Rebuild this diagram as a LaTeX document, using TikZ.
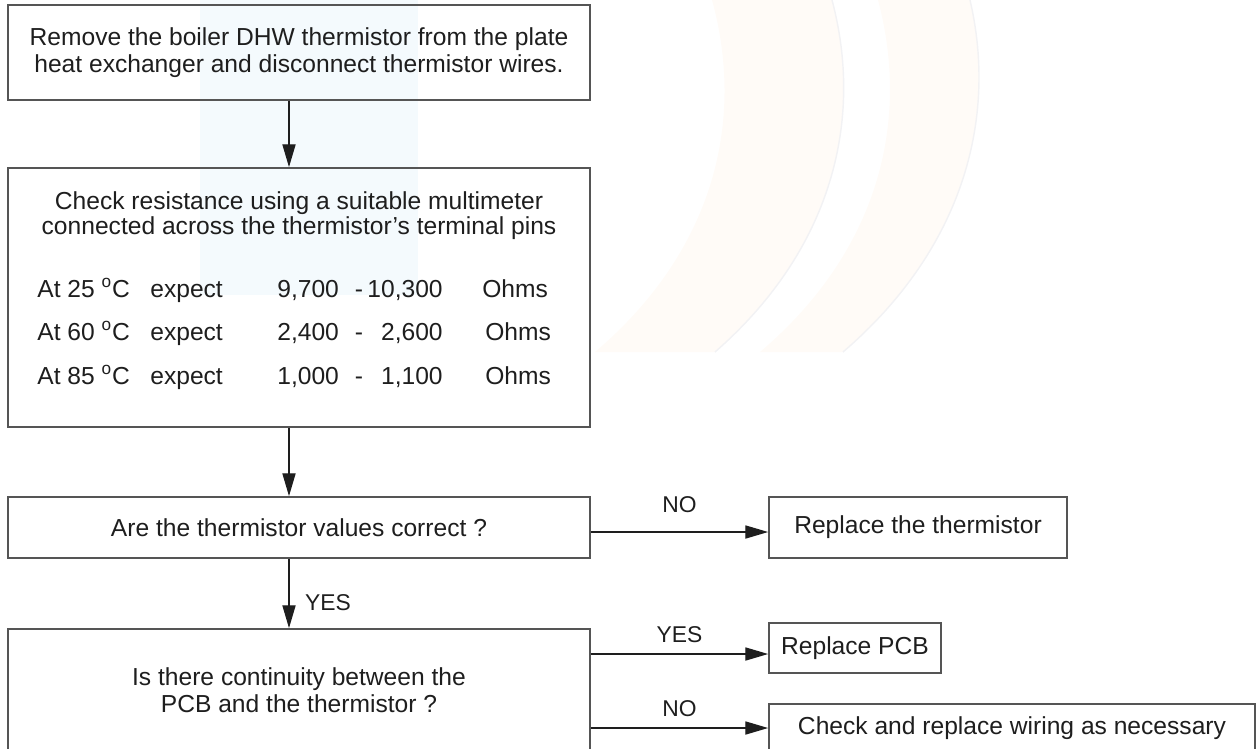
\documentclass[tikz,border=0pt]{standalone}
\usepackage{fontspec}
\setmainfont{Liberation Sans}
\usetikzlibrary{positioning,arrows.meta}
\definecolor{cLine}{RGB}{85,85,85}
\definecolor{cText}{RGB}{30,30,30}
\definecolor{cWmBlue}{RGB}{244,250,253}
\definecolor{cWmOrange}{RGB}{255,251,247}
\definecolor{cWmEdge}{RGB}{242,242,244}

\begin{document}
\begin{tikzpicture}[x=0.2mm,y=-0.2mm,
   box/.style={draw=cLine,line width=1pt,inner sep=0pt,align=center,text=cText,font=\fontsize{14}{15.4}\selectfont},
   txt/.style={inner sep=0pt,text=cText,font=\fontsize{14}{15.4}\selectfont},
   lbl/.style={inner sep=0pt,text=cText,font=\fontsize{13}{14}\selectfont},
   arr/.style={draw=cText,line width=0.7pt,-{Triangle[length=13pt,width=7.5pt]}}]
  \useasboundingbox (0,0) rectangle (1257,748);
  % faint watermark
  \fill[cWmBlue] (200,0) rectangle (418,295);
  \fill[cWmOrange] (712,0) -- (832,0) .. controls (864,120) and (832,250) .. (715,352)
    -- (595,352) .. controls (715,250) and (745,120) .. (712,0) -- cycle;
  \draw[cWmEdge,line width=0.8pt] (832,0) .. controls (864,120) and (832,250) .. (715,352);
  \fill[cWmOrange] (878,0) -- (970,0) .. controls (998,120) and (962,250) .. (843,352)
    -- (760,352) .. controls (880,250) and (910,120) .. (878,0) -- cycle;
  \draw[cWmEdge,line width=0.8pt] (970,0) .. controls (998,120) and (962,250) .. (843,352);
  % main column
  \node[box,minimum width=116.4mm,minimum height=19mm] (remove) at (299,52.5)
    {Remove the boiler DHW thermistor from the plate\\heat exchanger and disconnect thermistor wires.};
  \node[box,minimum width=116.4mm,minimum height=51.8mm] (check) at (299,297.5) {};
  \node[txt,anchor=base] (check1) at (299,209) {Check resistance using a suitable multimeter};
  \node[txt,anchor=base] (check2) at (299,234) {connected across the thermistor’s terminal pins};
  \foreach \deg/\lo/\hi/\yy/\ox [count=\r] in {25/{9,700}/{10,300}/297/482,
                                               60/{2,400}/{2,600}/340/485,
                                               85/{1,000}/{1,100}/384/485} {
    \node[txt,anchor=base west] (t\r) at (37,\yy) {At \deg\ \textsuperscript{o}C};
    \node[txt,anchor=base west] (e\r) at (150,\yy) {expect};
    \node[txt,anchor=base west] (lo\r) at (277,\yy) {\lo};
    \node[txt,anchor=base] (d\r) at (359,\yy) {-};
    \node[txt,anchor=base east] (hi\r) at (443,\yy) {\hi};
    \node[txt,anchor=base west] (u\r) at (\ox,\yy) {Ohms};
  }
  \node[box,minimum width=116.4mm,minimum height=12.2mm] (values) at (299,527.5) {Are the thermistor values correct ?};
  \node[box,minimum width=116.4mm,minimum height=24.6mm] (cont) at (299,690.5)
    {Is there continuity between the\\PCB and the thermistor ?};
  % right column
  \node[box,minimum width=59.6mm,minimum height=12.2mm] (repth) at (918,527.5) {Replace the thermistor};
  \node[box,minimum width=34.4mm,minimum height=10mm] (reppcb) at (855,648) {Replace PCB};
  \node[box,minimum width=97.2mm,minimum height=9.6mm] (wiring) at (1012,728) {Check and replace wiring as necessary};
  % connectors
  \coordinate (spine) at (289,0);
  \draw[arr] (remove.south -| spine) -- (check.north -| spine);
  \draw[arr] (check.south -| spine) -- (values.north -| spine);
  \draw[arr] (values.south -| spine) -- (cont.north -| spine) node[lbl,pos=0.63,right=3.1mm] (yes1) {YES};
  \draw[arr] ([yshift=-0.9mm]values.east) -- ([yshift=-0.9mm]repth.west) node[lbl,midway,above=3.8mm] (no1) {NO};
  \draw[arr] ([yshift=-1.2mm]reppcb.west -| cont.east) -- ([yshift=-1.2mm]reppcb.west) node[lbl,midway,above=2.2mm] (yes2) {YES};
  \draw[arr] (wiring.west -| cont.east) -- (wiring.west) node[lbl,midway,above=2.2mm] (no2) {NO};
\end{tikzpicture}
\end{document}
